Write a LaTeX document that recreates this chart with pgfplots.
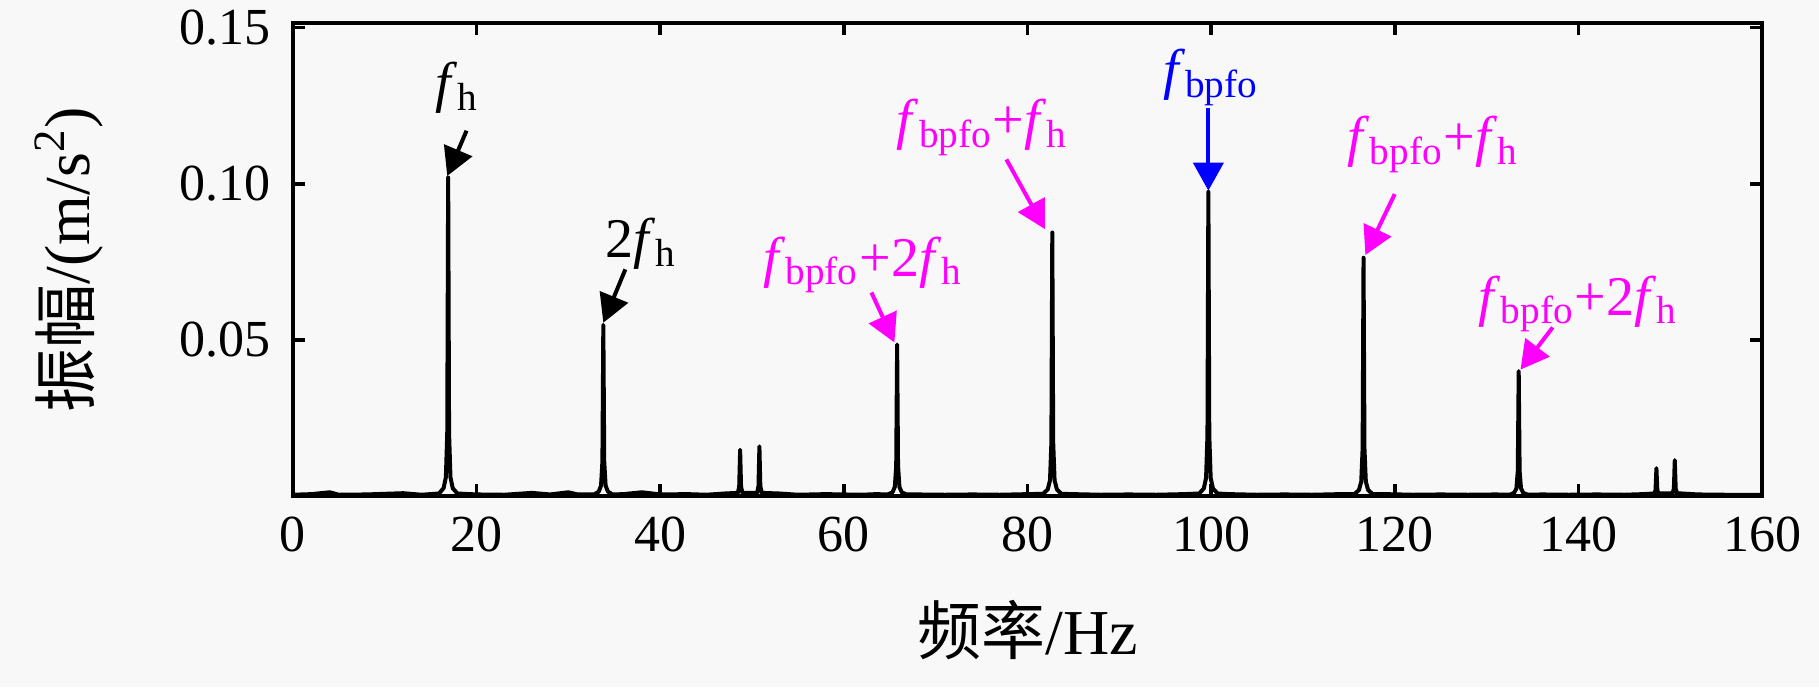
\documentclass[border=0pt]{standalone}
\usepackage{fontspec}
\setmainfont{Liberation Serif}
\newfontfamily\cjk{Noto Sans CJK SC}
\usepackage{pgfplots}
\pgfplotsset{compat=1.18}
\usetikzlibrary{arrows.meta}
\definecolor{mag}{RGB}{255,0,255}
\definecolor{blu}{RGB}{0,0,255}
\definecolor{bg}{RGB}{248,248,248}
\newcommand{\fh}{\textit{f}\textsubscript{h}}
\newcommand{\fb}{\textit{f}\textsubscript{bpfo}}
\begin{document}
\begin{tikzpicture}
\path[use as bounding box, fill=bg] (-73.25pt,-47.75pt) rectangle (381.5pt,124pt);
\begin{axis}[name=ax, scale only axis, width=367.25pt, height=118.25pt,
  at={(0,0)}, anchor=south west,
  xmin=0, xmax=160, ymin=0, ymax=0.1515,
  xtick={0,20,...,160}, ytick={0.05,0.10,0.15},
  yticklabel style={/pgf/number format/fixed,/pgf/number format/precision=2,/pgf/number format/fixed zerofill, xshift=-2pt},
  xticklabel style={yshift=-1.75pt},
  /pgf/number format/assume math mode=true,
  tick label style={font=\fontsize{13}{15}\selectfont},
  axis line style={line width=0.9pt},
  major tick length=3pt,
  tick style={line width=0.9pt, black},
  tick align=inside,
  axis background/.style={fill=bg},
  clip=true,
]
\addplot[black, line width=1pt, line join=round] table {
0 0.0004
2 0.0006
4 0.0012
5 0.0004
8 0.0005
12 0.0009
14 0.0004
15.9 0.0008
16.4 0.0025
16.65 0.006
16.8 0.02
16.9 0.102
17.0 0.02
17.15 0.006
17.4 0.0025
17.9 0.0008
20 0.0005
23 0.0004
26 0.0010
28 0.0005
30 0.0012
31 0.0005
32.8 0.0005
33.3 0.0014
33.55 0.0033
33.7 0.011
33.8 0.0548
33.9 0.011
34.05 0.0033
34.3 0.0014
34.8 0.0005
36 0.0006
38 0.0012
40 0.0005
43 0.0006
45 0.0004
47 0.0008
48.45 0.001
48.6 0.003
48.7 0.0148
48.8 0.003
48.95 0.001
50.55 0.001
50.7 0.0032
50.8 0.0159
50.9 0.0032
51.05 0.001
53 0.0008
55 0.0004
58 0.0006
60 0.0005
62 0.0004
63.5 0.0006
64.8 0.0005
65.3 0.0012
65.55 0.0029
65.7 0.0097
65.8 0.0485
65.9 0.0097
66.05 0.0029
66.3 0.0012
66.8 0.0005
68 0.0005
71 0.0004
74 0.0005
77 0.0004
80 0.0006
81.7 0.0007
82.2 0.0021
82.45 0.005
82.6 0.017
82.7 0.0844
82.8 0.017
82.95 0.005
83.2 0.0021
83.7 0.0007
85 0.0006
88 0.0004
91 0.0005
94 0.0004
97 0.0006
98.7 0.0008
99.2 0.0024
99.45 0.0058
99.6 0.0195
99.7 0.0974
99.8 0.0195
99.95 0.0058
100.2 0.0024
100.7 0.0008
102 0.0006
105 0.0004
108 0.0005
111 0.0004
114 0.0006
115.6 0.0006
116.1 0.0019
116.35 0.0046
116.5 0.0153
116.6 0.0763
116.7 0.0153
116.85 0.0046
117.1 0.0019
117.6 0.0006
119 0.0006
122 0.0004
125 0.0005
128 0.0004
131 0.0005
132.5 0.0004
133.0 0.001
133.25 0.0024
133.4 0.008
133.5 0.040
133.6 0.008
133.75 0.0024
134.0 0.001
134.5 0.0004
136 0.0005
139 0.0004
142 0.0005
145 0.0004
147 0.0006
148.25 0.0008
148.4 0.0018
148.5 0.0089
148.6 0.0018
148.75 0.0008
150.25 0.0009
150.4 0.0023
150.5 0.0115
150.6 0.0023
150.75 0.0009
153 0.0005
156 0.0004
160 0.0004
};
\tikzset{ann/.style={line width=1pt, -{Triangle[length=7pt,width=7.5pt]}},
         lab/.style={font=\fontsize{14}{16}\selectfont, inner sep=0pt}}
% f_h
\node[lab, black] at (axis cs:17.9,0.1307) {\fh};
\draw[ann, black] (axis cs:18.9,0.117) -- (axis cs:16.8,0.1025);
% 2f_h
\node[lab, black] at (axis cs:37.9,0.0807) {2\fh};
\draw[ann, black] (axis cs:36.2,0.0726) -- (axis cs:33.8,0.0555);
% f_bpfo+2f_h left
\node[lab, mag] at (axis cs:62.1,0.074) {\fb+2\fh};
\draw[ann, mag] (axis cs:63.0,0.0652) -- (axis cs:65.5,0.0492);
% f_bpfo+f_h (83)
\node[lab, mag] at (axis cs:75.1,0.118) {\fb+\fh};
\draw[ann, mag] (axis cs:77.7,0.1078) -- (axis cs:81.9,0.0855);
% f_bpfo
\node[lab, blu] at (axis cs:100,0.134) {\fb};
\draw[ann, blu] (axis cs:99.7,0.1244) -- (axis cs:99.7,0.0978);
% f_bpfo+f_h (117)
\node[lab, mag] at (axis cs:124.2,0.1126) {\fb+\fh};
\draw[ann, mag] (axis cs:120,0.0967) -- (axis cs:116.8,0.0772);
% f_bpfo+2f_h right
\node[lab, mag] at (axis cs:140,0.0615) {\fb+2\fh};
\draw[ann, mag] (axis cs:137.2,0.054) -- (axis cs:133.7,0.0405);
\end{axis}
\node[font=\fontsize{16}{18}\selectfont, anchor=center] at ([yshift=-33.5pt]ax.south) {{\cjk 频率}/Hz};
\node[font=\fontsize{16}{18}\selectfont, anchor=center, rotate=90] at ([xshift=-56pt]ax.west) {{\cjk 振幅}/(m/s\textsuperscript{2})};
\end{tikzpicture}
\end{document}
